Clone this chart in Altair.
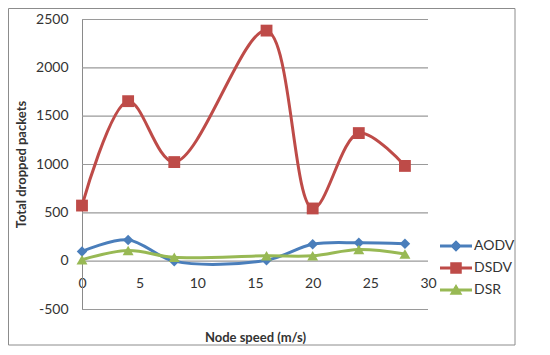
import altair as alt
import pandas as pd

speeds = [0, 4, 8, 16, 20, 24, 28]
aodv = [95, 215, -5, 5, 170, 185, 175]
dsdv = [570, 1650, 1020, 2380, 540, 1320, 980]
dsr = [10, 105, 35, 50, 50, 115, 70]
series_names = ["AODV", "DSDV", "DSR"]
colors = ["#4A7EBB", "#BE4B48", "#98B954"]
marker_shapes = ["diamond", "square", "triangle-up"]
marker_sizes = [110, 140, 120]
y_ticks = [-500, 0, 500, 1000, 1500, 2000, 2500]
x_ticks = [0, 5, 10, 15, 20, 25, 30]

rows = []
for name, vals in zip(series_names, [aodv, dsdv, dsr]):
    for s, v in zip(speeds, vals):
        rows.append({"speed": s, "value": v, "series": name})
df = pd.DataFrame(rows)

FONT = "Lato"
TXT = "#333333"

x_axis = alt.Axis(values=x_ticks, title="Node speed (m/s)",
                  offset=-48.33, ticks=False, domain=False, grid=False,
                  labelFlush=False,
                  labelPadding=16, labelFontSize=14, labelColor=TXT,
                  labelFont=FONT, titleFont=FONT, titleFontSize=13,
                  titleFontWeight="bold", titleColor=TXT, titleY=71)
y_axis = alt.Axis(values=y_ticks,
                  labelExpr="'' + datum.value", grid=False,
                  title="Total dropped packets", ticks=False,
                  domainColor="#8a8a8a",
                  labelPadding=14, labelFontSize=14, labelColor=TXT,
                  labelFont=FONT, titleFont=FONT, titleFontSize=13,
                  titleFontWeight="bold", titleColor=TXT, titleX=-54)

x_scale = alt.Scale(domain=[0, 30])
y_scale = alt.Scale(domain=[-500, 2500], nice=False)
x_enc = alt.X("speed:Q", scale=x_scale, axis=x_axis)
y_enc = alt.Y("value:Q", scale=y_scale, axis=y_axis)

base = alt.Chart(df)

grid_df = pd.DataFrame({"tick": y_ticks, "lo": [0] * len(y_ticks), "hi": [30] * len(y_ticks)})
grid = alt.Chart(grid_df).mark_rule(
    color="#9a9a9a", strokeWidth=1.2, opacity=1, yOffset=0.5
).encode(
    y=alt.Y("tick:Q", scale=y_scale, axis=y_axis),
    x=alt.X("lo:Q", scale=x_scale, axis=x_axis),
    x2="hi:Q",
)

line_layers = []
point_layers = []
for name, col, shp, sz in zip(series_names, colors, marker_shapes, marker_sizes):
    sub = base.transform_filter(alt.datum.series == name)
    line_layers.append(
        sub.mark_line(interpolate="catmull-rom", strokeWidth=3, color=col).encode(
            x=x_enc, y=y_enc)
    )
    point_layers.append(
        sub.mark_point(filled=True, opacity=1, size=sz, shape=shp, color=col).encode(
            x=x_enc, y=y_enc)
    )

line_part = "M-1,-0.1H1V0.1H-1Z "
legend_paths = [
    line_part + "M0,-0.36L0.36,0L0,0.36L-0.36,0Z",
    line_part + "M-0.36,-0.36H0.36V0.36H-0.36Z",
    line_part + "M0,-0.38L0.4,0.3L-0.4,0.3Z",
]

legend_def = alt.Legend(title=None, orient="none", legendX=358, legendY=216,
                        symbolSize=1024, symbolStrokeWidth=0,
                        labelFont=FONT, labelFontSize=14, labelColor=TXT,
                        labelOffset=2, clipHeight=22, rowPadding=0)

leg = base.mark_point(filled=True, opacity=1).encode(
    x=x_enc, y=y_enc,
    color=alt.Color("series:N", scale=alt.Scale(domain=series_names, range=colors),
                    legend=legend_def),
    shape=alt.Shape("series:N", scale=alt.Scale(domain=series_names, range=legend_paths),
                    legend=legend_def),
).transform_filter("false")

frame = alt.Chart(pd.DataFrame({"k": [0]})).mark_rect(
    filled=False, stroke="#8c8c8c", strokeWidth=1
).encode(x=alt.value(-73.5), x2=alt.value(433), y=alt.value(-10.5), y2=alt.value(326))

chart = alt.layer(grid, *line_layers, *point_layers, leg, frame).properties(
    width=346, height=290,
    autosize=alt.AutoSizeParams(type="none"),
    padding={"left": 74, "top": 11, "right": 100, "bottom": 40},
    background="white",
).configure_view(stroke=None)

chart.save("out.html", embed_options={"renderer": "svg", "actions": False})
